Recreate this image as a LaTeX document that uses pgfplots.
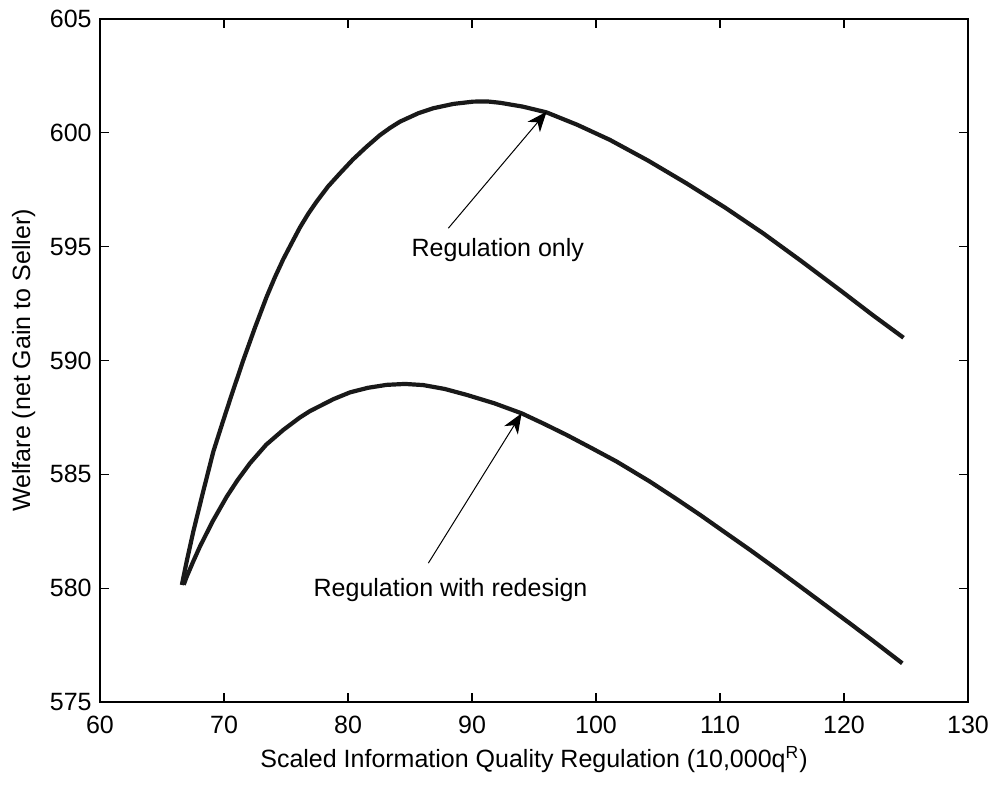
\documentclass[border=0pt]{standalone}
\usepackage{fontspec}
\setmainfont{Liberation Sans}
\usepackage{pgfplots}
\pgfplotsset{compat=1.18}
\usepackage{pgfplotstable}
\usetikzlibrary{arrows.meta}

\newcommand\fs{\fontsize{12.5}{15}\selectfont}

% welfare, regulation only
\pgfplotstableread{
x y
66.60 580.14
67.00 581.20
67.53 582.50
68.30 584.20
69.14 586.00
69.90 587.30
70.62 588.50
71.56 590.02
72.50 591.45
73.44 592.80
74.10 593.65
74.78 594.45
75.45 595.15
76.13 595.85
76.80 596.45
77.47 596.98
78.40 597.65
79.35 598.22
80.40 598.83
81.50 599.39
82.58 599.90
83.40 600.22
84.19 600.49
85.67 600.86
86.88 601.08
88.50 601.27
90.10 601.37
91.20 601.38
92.26 601.32
94.10 601.15
96.00 600.90
98.50 600.35
101.12 599.69
104.20 598.78
107.30 597.78
110.40 596.72
113.47 595.59
116.60 594.35
119.66 593.10
122.30 592.00
124.80 591.00
}\regonly

% welfare, regulation with redesign
\pgfplotstableread{
x y
66.75 580.15
66.99 580.50
67.50 581.15
68.06 581.83
69.10 582.95
70.22 584.02
71.10 584.75
72.10 585.49
73.40 586.30
74.78 586.95
76.13 587.50
76.94 587.78
78.82 588.30
80.16 588.60
81.60 588.80
83.12 588.93
84.60 588.97
86.07 588.92
87.80 588.75
89.57 588.49
91.80 588.12
94.00 587.68
95.80 587.22
97.63 586.73
99.65 586.15
101.67 585.56
104.35 584.68
106.40 583.95
108.39 583.22
110.40 582.45
112.42 581.68
114.40 580.90
116.45 580.08
118.50 579.25
120.48 578.45
122.60 577.58
124.70 576.70
}\regredesign

\begin{document}
\begin{tikzpicture}
  \begin{axis}[
    scale only axis, width=434pt, height=341.5pt,
    xmin=60, xmax=130, ymin=575, ymax=605,
    xtick={60,70,...,130}, ytick={575,580,...,605},
    tick align=inside, xtick pos=both, ytick pos=both,
    major tick length=4.5pt,
    axis line style={line width=0.6pt},
    every tick/.style={black, line width=0.6pt},
    tick label style={font=\fs, inner sep=0pt},
    /pgf/number format/assume math mode=true,
    /pgf/number format/1000 sep={},
    xticklabel shift=7pt, yticklabel shift=4pt,
    xlabel={Scaled Information Quality Regulation (10,000q\textsuperscript{R})},
    ylabel={Welfare (net Gain to Seller)},
    label style={font=\fs, inner sep=0pt},
    xlabel style={at={(axis description cs:0.5,-0.0952)}, anchor=base},
    ylabel style={at={(axis description cs:-0.0806,0.5)}, anchor=base},
  ]
    \addplot[black!90, line width=2.1pt, line join=round, no markers] table[x=x, y=y] {\regonly};
    \addplot[black!90, line width=2.1pt, line join=round, no markers] table[x=x, y=y] {\regredesign};

    % annotations
    \draw[line width=0.5pt, -{Stealth[length=10pt, width=8pt, inset=3pt]}]
      (axis cs:88.09,595.81) -- (axis cs:96.02,600.93);
    \node[font=\fs, anchor=base west, inner sep=0pt] at (axis cs:85.1,594.56) {Regulation only};
    \draw[line width=0.5pt, -{Stealth[length=10pt, width=8pt, inset=3pt]}]
      (axis cs:86.48,581.1) -- (axis cs:94.0,587.68);
    \node[font=\fs, anchor=base west, inner sep=0pt] at (axis cs:77.2,579.63) {Regulation with redesign};
  \end{axis}
  \pgfresetboundingbox
  \path ([shift={(-50pt,-41pt)}]current axis.south west) rectangle ([shift={(14.5pt,9.5pt)}]current axis.north east);
\end{tikzpicture}
\end{document}
